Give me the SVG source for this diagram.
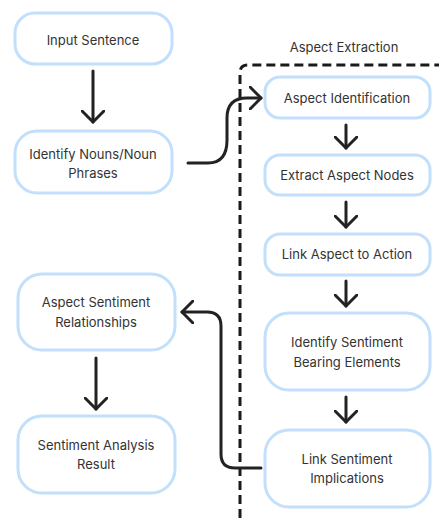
<svg xmlns="http://www.w3.org/2000/svg" width="439" height="518" viewBox="0 0 439 518">
  <style>
    .node rect { fill: #ffffff; stroke: #c2e0fb; stroke-width: 3; }
    .node text, .label { font-family: Inter, "Liberation Sans", sans-serif; font-size: 13px; fill: #333333; text-anchor: middle; }
    .edge { fill: none; stroke: #222222; stroke-width: 3; stroke-linecap: round; stroke-linejoin: round; }
    .group { fill: none; stroke: #1a1a1a; stroke-width: 3; stroke-dasharray: 9 5; }
  </style>
  <defs>
    <marker id="arrow" viewBox="0 0 14 24" refX="12" refY="12" markerWidth="14" markerHeight="24" markerUnits="userSpaceOnUse" orient="auto">
      <path d="M1 1 L12 12 L1 23" fill="none" stroke="#222222" stroke-width="3" stroke-linecap="round" stroke-linejoin="round"/>
    </marker>
  </defs>

  <rect width="439" height="518" fill="#ffffff"/>

  <!-- Aspect Extraction group boundary -->
  <g id="aspect-extraction">
    <path class="group" d="M240 518 V73 Q240 65 248 65 H439"/>
    <text class="label" x="344" y="52">Aspect Extraction</text>
  </g>

  <!-- connectors -->
  <g id="connectors">
    <path class="edge" d="M93 71 V122" marker-end="url(#arrow)"/>
    <path class="edge" d="M188 163 H208 Q227 163 227 140 V118 Q227 98 247 98 H261" marker-end="url(#arrow)"/>
    <path class="edge" d="M346 125 V148" marker-end="url(#arrow)"/>
    <path class="edge" d="M346 202 V227" marker-end="url(#arrow)"/>
    <path class="edge" d="M346 281 V306" marker-end="url(#arrow)"/>
    <path class="edge" d="M346 397 V422" marker-end="url(#arrow)"/>
    <path class="edge" d="M261 468 H235 Q221 468 221 454 V326 Q221 312 207 312 H182" marker-end="url(#arrow)"/>
    <path class="edge" d="M96 358 V409" marker-end="url(#arrow)"/>
  </g>

  <!-- nodes -->
  <g id="input-sentence" class="node">
    <rect x="15" y="13" width="157" height="51" rx="20"/>
    <text x="93" y="45">Input Sentence</text>
  </g>
  <g id="identify-nouns" class="node">
    <rect x="15" y="131" width="157" height="62" rx="22"/>
    <text x="93" y="159">Identify Nouns/Noun</text>
    <text x="93" y="178">Phrases</text>
  </g>
  <g id="aspect-identification" class="node">
    <rect x="265" y="77" width="165" height="41" rx="15"/>
    <text x="347" y="103">Aspect Identification</text>
  </g>
  <g id="extract-aspect-nodes" class="node">
    <rect x="265" y="155" width="165" height="40" rx="15"/>
    <text x="347" y="180">Extract Aspect Nodes</text>
  </g>
  <g id="link-aspect-action" class="node">
    <rect x="265" y="234" width="165" height="41" rx="15"/>
    <text x="347" y="259">Link Aspect to Action</text>
  </g>
  <g id="identify-sentiment-elements" class="node">
    <rect x="265" y="313" width="165" height="77" rx="24"/>
    <text x="347" y="347">Identify Sentiment</text>
    <text x="347" y="367">Bearing Elements</text>
  </g>
  <g id="link-sentiment-implications" class="node">
    <rect x="265" y="430" width="165" height="77" rx="24"/>
    <text x="347" y="464">Link Sentiment</text>
    <text x="347" y="483">Implications</text>
  </g>
  <g id="aspect-sentiment-relationships" class="node">
    <rect x="18" y="274" width="157" height="76" rx="24"/>
    <text x="96" y="307">Aspect Sentiment</text>
    <text x="96" y="327">Relationships</text>
  </g>
  <g id="sentiment-analysis-result" class="node">
    <rect x="18" y="416" width="157" height="77" rx="24"/>
    <text x="96" y="450">Sentiment Analysis</text>
    <text x="96" y="469">Result</text>
  </g>
</svg>
